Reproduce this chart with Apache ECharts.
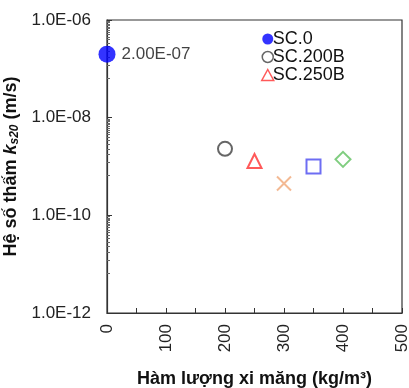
<!DOCTYPE html>
<html>
<head>
<meta charset="utf-8">
<script src="https://cdn.jsdelivr.net/npm/echarts@6/dist/echarts.min.js"></script>
<style>html,body{margin:0;padding:0;background:#fff}#c{width:409px;height:388px}</style>
</head>
<body>
<div id="c"></div>
<script>
const seriesNames = ['SC.0', 'SC.200B', 'SC.250B', 'SC.300B', 'SC.350B', 'SC.400B'];
const cementContent = [0, 200, 250, 300, 350, 400];
const permeability = [2.0e-7, 2.3e-9, 1.3e-9, 4.5e-10, 1.0e-9, 1.4e-9];
const legendNames = ['SC.0', 'SC.200B', 'SC.250B'];
const yTickValues = [1e-12, 1e-10, 1e-8, 1e-6];
const xTickValues = [0, 100, 200, 300, 400, 500];

const font = '"Liberation Sans", Arial, sans-serif';
const styles = [
  {symbol: 'circle', size: 17, color: '#0000ff', border: '#0000ff', fill: true},
  {symbol: 'circle', size: 14, color: '#404040', border: '#404040'},
  {symbol: 'triangle', size: 14, color: '#ff3030', border: '#ff3030'},
  {symbol: 'path://M0,0L10,10M10,0L0,10', size: 14, color: '#f0a878', border: '#f0a878'},
  {symbol: 'rect', size: 14, color: '#4848f0', border: '#4848f0'},
  {symbol: 'diamond', size: 15, color: '#60c060', border: '#60c060'}
];

function fmtExp(v) {
  const e = Math.round(Math.log10(v));
  const m = v / Math.pow(10, e);
  const sign = e < 0 ? '-' : '+';
  const a = Math.abs(e);
  return m.toFixed(1) + 'E' + sign + (a < 10 ? '0' + a : a);
}

const series = seriesNames.map((name, i) => {
  const s = styles[i];
  return {
    name: name,
    type: 'scatter',
    symbol: s.symbol,
    symbolSize: s.size,
    data: [[cementContent[i], permeability[i]]],
    itemStyle: s.fill ? {color: s.color} : {color: 'rgba(255,255,255,0)', borderColor: s.border, borderWidth: 2},
    label: i === 0 ? {
      show: true, position: 'right', distance: 6,
      formatter: p => (p.value[1]).toExponential(2).toUpperCase().replace(/E([-+])(\d)$/, 'E$10$2'),
      color: '#111', fontSize: 17, fontFamily: font
    } : {show: false},
    z: 5
  };
});

const chart = echarts.init(document.getElementById('c'), null, {renderer: 'canvas'});
chart.setOption({
  animation: false,
  backgroundColor: '#fff',
  grid: {left: 107, right: 7, top: 20, bottom: 75, show: true, borderColor: '#333', borderWidth: 1.2,
    containLabel: false, outerBoundsMode: 'none'},
  legend: {
    data: legendNames.map((n, i) => ({
      name: n,
      icon: styles[i].symbol,
      itemStyle: styles[i].fill ? {color: styles[i].color} : {color: 'rgba(255,255,255,0)', borderColor: styles[i].border, borderWidth: 1.5}
    })),
    orient: 'vertical',
    left: 256, top: 25,
    itemWidth: 12, itemHeight: 11, itemGap: 0,
    textStyle: {fontSize: 18, lineHeight: 18, fontFamily: font, color: '#111', padding: [0, 0, 0, -6]}
  },
  xAxis: {
    type: 'value', min: 0, max: 500, interval: 50,
    name: 'Hàm lượng xi măng (kg/m³)',
    nameLocation: 'middle', nameGap: 57,
    nameTextStyle: {fontSize: 18, fontWeight: 'bold', fontFamily: font, color: '#111'},
    axisLine: {show: true, lineStyle: {color: '#333', width: 1.2}},
    axisTick: {show: true, inside: true, length: 5, lineStyle: {color: '#333'}},
    axisLabel: {rotate: 90, fontSize: 17, fontFamily: font, color: '#222', margin: 11,
      formatter: v => xTickValues.includes(v) ? String(v) : ''},
    splitLine: {show: false}
  },
  yAxis: {
    type: 'log', logBase: 10, min: 1e-12, max: 1e-6, interval: 2,
    name: '{b|Hệ số thấm }{bi|k}{sub|s20}{b| (m/s)}',
    nameLocation: 'middle', nameGap: 84, nameRotate: 90,
    nameTextStyle: {
      rich: {
        b: {fontSize: 18, fontWeight: 'bold', fontFamily: font, color: '#111'},
        bi: {fontSize: 18, fontWeight: 'bold', fontStyle: 'italic', fontFamily: font, color: '#111'},
        sub: {fontSize: 12, fontWeight: 'bold', fontStyle: 'italic', fontFamily: font, color: '#111', verticalAlign: 'bottom', padding: [8, 0, 0, 0]}
      }
    },
    axisLine: {show: true, lineStyle: {color: '#333', width: 1.2}},
    axisTick: {show: true, inside: true, length: 5, lineStyle: {color: '#333'}},
    minorTick: {show: true, splitNumber: 18, length: 3, lineStyle: {color: '#666'}},
    axisLabel: {fontSize: 17, fontFamily: font, color: '#222', margin: 16,
      formatter: v => fmtExp(v)},
    splitLine: {show: false}
  },
  series: series
});
</script>
</body>
</html>
